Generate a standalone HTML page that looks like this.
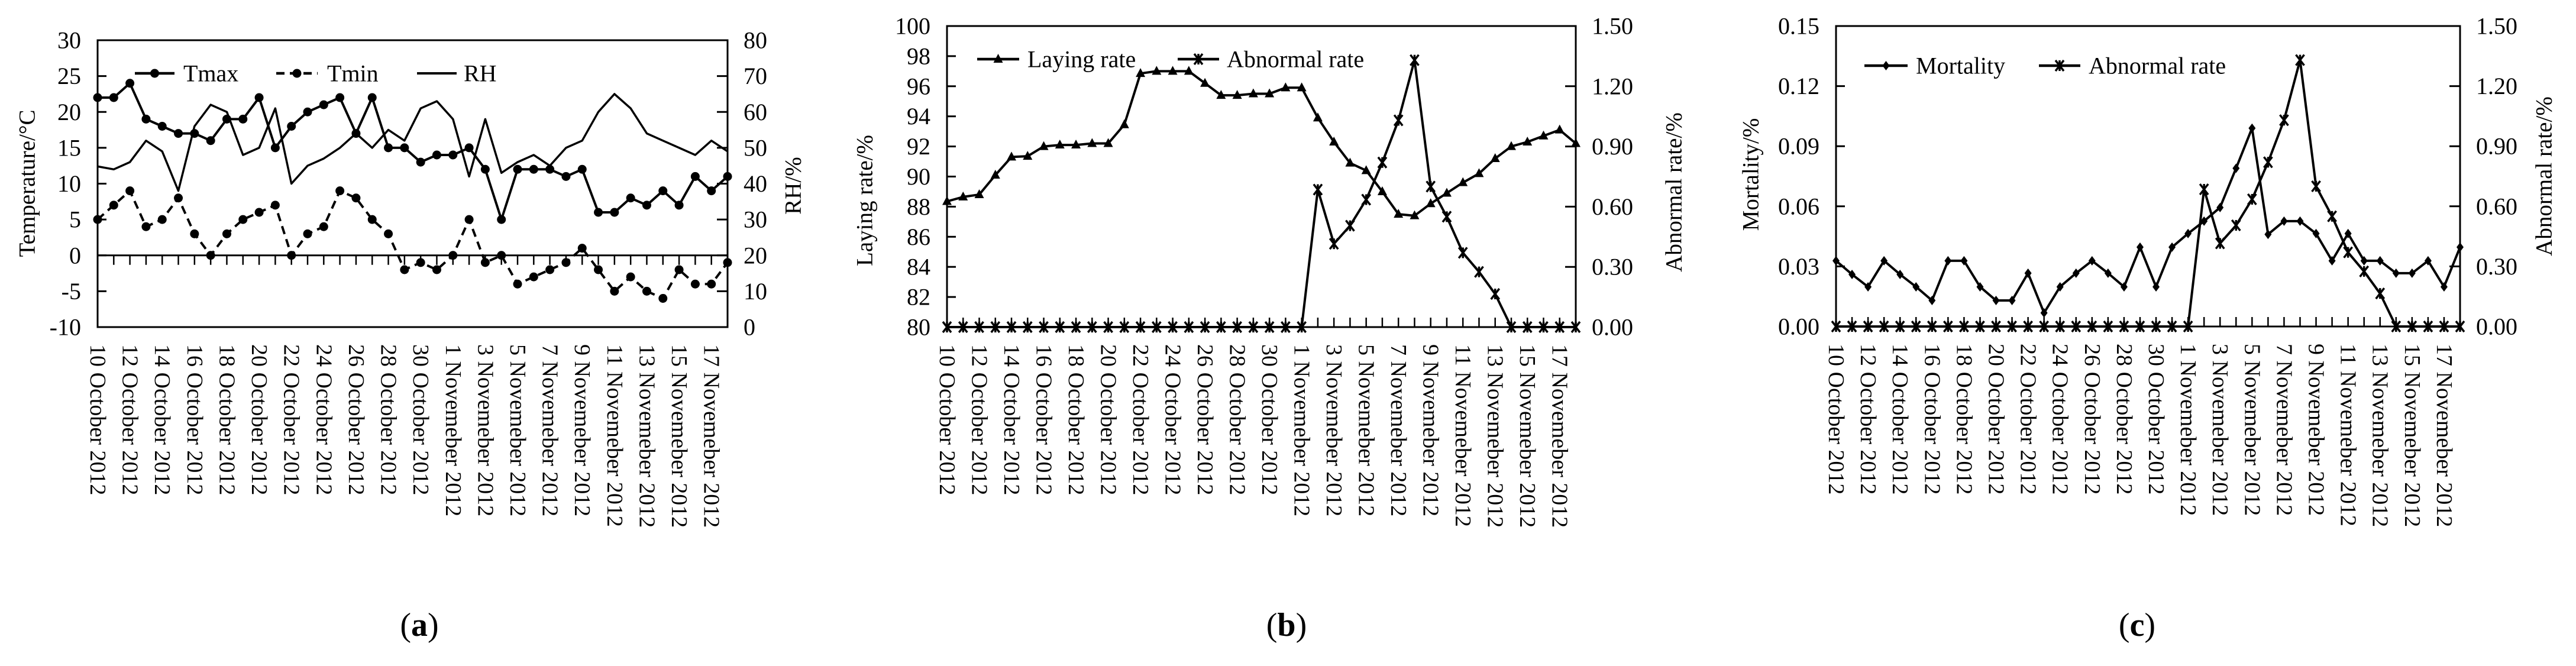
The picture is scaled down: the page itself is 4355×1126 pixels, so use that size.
<!DOCTYPE html>
<html><head><meta charset="utf-8"><style>
html,body{margin:0;padding:0;background:#fff;}
svg{display:block;font-family:"Liberation Serif",serif;}
</style></head><body>
<svg id="fig" width="4355" height="1126" viewBox="0 0 4355 1126" xmlns="http://www.w3.org/2000/svg"></svg>
<script>
const catLabels = ["10 October 2012","12 October 2012","14 October 2012","16 October 2012","18 October 2012","20 October 2012","22 October 2012","24 October 2012","26 October 2012","28 October 2012","30 October 2012","1 Novemeber 2012","3 Novemeber 2012","5 Novemeber 2012","7 Novemeber 2012","9 Novemeber 2012","11 Novemeber 2012","13 Novemeber 2012","15 Novemeber 2012","17 Novemeber 2012"];
const tmax = [22,22,24,19,18,17,17,16,19,19,22,15,18,20,21,22,17,22,15,15,13,14,14,15,12,5,12,12,12,11,12,6,6,8,7,9,7,11,9,11];
const tmin = [5,7,9,4,5,8,3,0,3,5,6,7,0,3,4,9,8,5,3,-2,-1,-2,0,5,-1,0,-4,-3,-2,-1,1,-2,-5,-3,-5,-6,-2,-4,-4,-1];
const rh = [44.8,44,46,52,49,38,56,62,60,48,50,61,40,45,47,50,54,50,55,52,61,63,58,42,58,43,46,48,45,50,52,60,65,61,54,52,50,48,52,49];
const layingRate = [88.35,88.65,88.8,90.1,91.3,91.35,92.0,92.1,92.1,92.2,92.2,93.45,96.85,97.0,97.0,97.0,96.2,95.4,95.4,95.5,95.5,95.9,95.9,93.9,92.3,90.9,90.4,89.0,87.5,87.4,88.2,88.9,89.6,90.2,91.2,92.0,92.3,92.7,93.1,92.2];
const abnormalRate = [0,0,0,0,0,0,0,0,0,0,0,0,0,0,0,0,0,0,0,0,0,0,0,0.685,0.415,0.505,0.635,0.82,1.03,1.33,0.70,0.55,0.37,0.275,0.165,0,0,0,0,0];
const mortality = [0.0328,0.026,0.0198,0.0328,0.026,0.0198,0.013,0.0328,0.0328,0.0198,0.013,0.013,0.0266,0.0068,0.0198,0.0266,0.0328,0.0266,0.0198,0.0396,0.0198,0.0396,0.0464,0.0526,0.0594,0.079,0.099,0.046,0.0526,0.0526,0.0464,0.0328,0.0464,0.0328,0.0328,0.0266,0.0266,0.0328,0.0198,0.0396];
const ticksA = [-10,-5,0,5,10,15,20,25,30];
const ticksRH = [0,10,20,30,40,50,60,70,80];
const ticksLay = [80,82,84,86,88,90,92,94,96,98,100];
const ticksAbn = [0,0.3,0.6,0.9,1.2,1.5];
const ticksMort = [0,0.03,0.06,0.09,0.12,0.15];

const NS="http://www.w3.org/2000/svg";
const svg=document.getElementById('fig');
function mk(tag,attrs,parent){const e=document.createElementNS(NS,tag);for(const k in attrs)e.setAttribute(k,attrs[k]);(parent||svg).appendChild(e);return e;}
function txt(s,attrs,parent){const e=mk('text',attrs,parent);e.textContent=s;return e;}

function panel(cfg){
  const g=mk('g',{});
  
  
  const n=tmax.length;
  const xs=i=>cfg.L+(cfg.R-cfg.L)*i/(n-1);
  const yl=v=>cfg.B-(v-cfg.lmin)/(cfg.lmax-cfg.lmin)*(cfg.B-cfg.T);
  const yr=v=>cfg.B-(v-cfg.rmin)/(cfg.rmax-cfg.rmin)*(cfg.B-cfg.T);
  const frame=mk('rect',{x:cfg.L,y:cfg.T,width:cfg.R-cfg.L,height:cfg.B-cfg.T,fill:'none',stroke:'#000','stroke-width':3},g);
  
  
  // left ticks
  cfg.lticks.forEach(v=>{
    const y=yl(v);
    mk('line',{x1:cfg.L,x2:cfg.L+15,y1:y,y2:y,stroke:'#000','stroke-width':3},g);
    const t=txt(cfg.lfmt(v),{x:cfg.L-28,y:y,'text-anchor':'end','dominant-baseline':'central','font-size':40},g);
    
    
  });
  cfg.rticks.forEach(v=>{
    const y=yr(v);
    mk('line',{x1:cfg.R-18,x2:cfg.R,y1:y,y2:y,stroke:'#000','stroke-width':3},g);
    const t=txt(cfg.rfmt(v),{x:cfg.R+27,y:y,'text-anchor':'start','dominant-baseline':'central','font-size':40},g);
    
    
  });
  // category axis
  const cy=cfg.zeroLine?yl(0):cfg.B;
  if(cfg.zeroLine) mk('line',{x1:cfg.L,x2:cfg.R,y1:cy,y2:cy,stroke:'#000','stroke-width':3},g);
  for(let i=0;i<n;i++){
    const x=xs(i);
    mk('line',{x1:x,x2:x,y1:cy,y2:cfg.zeroLine?cy+16:cy-16,stroke:'#000','stroke-width':2.5},g);
  }
  catLabels.forEach((s,k)=>{
    const x=xs(k*2), y=cfg.B+29;
    const t=txt(s,{x:x,y:y,'font-size':38,'dominant-baseline':'central',transform:`rotate(90 ${x} ${y})`},g);
    
    
  });
  // titles
  const lt=txt(cfg.ltitle,{x:cfg.ltx,y:cfg.lty,'font-size':39,'text-anchor':'middle','dominant-baseline':'central',transform:`rotate(-90 ${cfg.ltx} ${cfg.lty})`},g);
  
  
  const rt=txt(cfg.rtitle,{x:cfg.rtx,y:cfg.rty,'font-size':39,'text-anchor':'middle','dominant-baseline':'central',transform:`rotate(-90 ${cfg.rtx} ${cfg.rty})`},g);
  
  
  const pl=txt('',{x:cfg.plx,y:1057,'font-size':56,'text-anchor':'middle','dominant-baseline':'central'},g);
  
  
  const s1=mk('tspan',{},pl);s1.textContent='(';
  const s2=mk('tspan',{'font-weight':'bold'},pl);s2.textContent=cfg.letter;
  const s3=mk('tspan',{},pl);s3.textContent=')';
  // series
  cfg.series.forEach(sr=>{
    const sg=mk('g',{},g);
    
    
    const yf=sr.axis==='r'?yr:yl;
    const pts=sr.data.map((v,i)=>xs(i).toFixed(1)+','+yf(v).toFixed(1)).join(' ');
    mk('polyline',{points:pts,fill:'none',stroke:'#000','stroke-width':sr.w,'stroke-dasharray':sr.dash||'none','stroke-linejoin':'round'},sg);
    if(sr.marker) sr.data.forEach((v,i)=>{
      const m=drawMarker(sr.marker,xs(i),yf(v),sg);
      
      
    });
    // legend
    const lg=mk('g',{},g);
    
    
    mk('line',{x1:sr.lx1,x2:sr.lx2,y1:cfg.ly,y2:cfg.ly,stroke:'#000','stroke-width':sr.w+0.5,'stroke-dasharray':sr.dash||'none'},lg);
    if(sr.marker) drawMarker(sr.marker,(sr.lx1+sr.lx2)/2,cfg.ly,lg);
    txt(sr.label,{x:sr.tx,y:cfg.ly,'font-size':40,'dominant-baseline':'central'},lg);
  });
}
function drawMarker(type,x,y,p){
  if(type==='circle') return mk('circle',{cx:x,cy:y,r:7.5,fill:'#000'},p);
  if(type==='tri') return mk('polygon',{points:`${x},${y-9} ${x-8},${y+6} ${x+8},${y+6}`,fill:'#000'},p);
  if(type==='diamond') return mk('polygon',{points:`${x},${y-8} ${x+6},${y} ${x},${y+8} ${x-6},${y}`,fill:'#000'},p);
  const g=mk('g',{stroke:'#000','stroke-width':3.5},p);
  mk('line',{x1:x-7,y1:y-9,x2:x+7,y2:y+9},g);
  mk('line',{x1:x+7,y1:y-9,x2:x-7,y2:y+9},g);
  mk('line',{x1:x,y1:y-9,x2:x,y2:y+9},g);
  return g;
}

panel({name:'panel-a-temperature-rh',letter:'a',L:165,R:1230,T:68,B:553,lmin:-10,lmax:30,rmin:0,rmax:80,
  lticks:ticksA,rticks:ticksRH,lfmt:v=>String(v),rfmt:v=>String(v),zeroLine:true,
  ltitle:'Temperature/°C',ltx:46,lty:310,rtitle:'RH/%',rtx:1341,rty:314,plx:709,ly:124,
  series:[
    {name:'tmax-line',label:'Tmax',data:tmax,axis:'l',w:4,marker:'circle',lx1:228,lx2:295,tx:310},
    {name:'tmin-line',label:'Tmin',data:tmin,axis:'l',w:4,dash:'14 9',marker:'circle',lx1:467,lx2:537,tx:553},
    {name:'rh-line',label:'RH',data:rh,axis:'r',w:3.5,lx1:705,lx2:772,tx:784}
  ]});
panel({name:'panel-b-laying-abnormal',letter:'b',L:1601,R:2664,T:44,B:553,lmin:80,lmax:100,rmin:0,rmax:1.5,
  lticks:ticksLay,rticks:ticksAbn,lfmt:v=>String(v),rfmt:v=>v.toFixed(2),zeroLine:false,
  ltitle:'Laying rate/%',ltx:1462,lty:339,rtitle:'Abnormal rate/%',rtx:2830,rty:325,plx:2175,ly:100,
  series:[
    {name:'laying-rate-line',label:'Laying rate',data:layingRate,axis:'l',w:4,marker:'tri',lx1:1652,lx2:1723,tx:1737},
    {name:'abnormal-rate-line',label:'Abnormal rate',data:abnormalRate,axis:'r',w:4,marker:'x',lx1:1991,lx2:2061,tx:2074}
  ]});
panel({name:'panel-c-mortality-abnormal',letter:'c',L:3104,R:4159,T:44,B:552,lmin:0,lmax:0.15,rmin:0,rmax:1.5,
  lticks:ticksMort,rticks:ticksAbn,lfmt:v=>v.toFixed(2),rfmt:v=>v.toFixed(2),zeroLine:false,
  ltitle:'Mortality/%',ltx:2960,lty:295,rtitle:'Abnormal rate/%',rtx:4301,rty:298,plx:3613,ly:111,
  series:[
    {name:'mortality-line',label:'Mortality',data:mortality,axis:'l',w:4,marker:'diamond',lx1:3152,lx2:3225,tx:3239},
    {name:'abnormal-rate-line-c',label:'Abnormal rate',data:abnormalRate,axis:'r',w:4,marker:'x',lx1:3447,lx2:3517,tx:3531}
  ]});
</script>
</body></html>
